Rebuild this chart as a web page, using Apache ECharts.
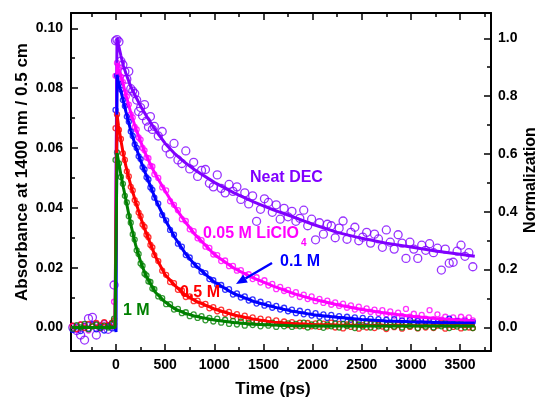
<!DOCTYPE html>
<html>
<head>
<meta charset="utf-8">
<title>Transient absorption decay at 1400 nm</title>
<script src="https://cdn.jsdelivr.net/npm/echarts@6/dist/echarts.min.js"></script>
<style>
  html, body { margin: 0; padding: 0; background: #fff; }
  #chart { width: 543px; height: 401px; }
</style>
</head>
<body>
<div id="chart"></div>
<script>
// Pump-probe delay times (ps) of the measured points
const delayTimes = [-440,-400,-360,-320,-280,-240,-200,-160,-120,-80,-40,-20,-5,
  10,30,50,70,90,110,130,150,170,190,210,230,250,270,290,310,330,350,370,390,
  430,470,510,550,590,630,670,710,750,790,830,870,910,950,990,
  1030,1070,1110,1150,1190,1230,1270,1310,1350,1390,1430,1470,1510,1550,1590,1630,1670,1710,1750,1790,1830,1870,1910,1950,1990,
  2030,2070,2110,2150,2190,2230,2270,2310,2350,2390,2430,2470,2510,2550,2590,2630,2670,2710,2750,2790,2830,2870,2910,2950,2990,
  3030,3070,3110,3150,3190,3230,3270,3310,3350,3390,3430,3470,3510,3550,3590,3630];

// Measured absorbance at 1400 nm (per 0.5 cm)
const neatDec = [0.0000,-0.0010,-0.0025,-0.0042,0.0030,0.0034,-0.0025,0.0002,0.0010,-0.0006,0.0008,0.0142,0.0958,
  0.0962,0.0955,0.0890,0.0878,0.0855,0.0830,0.0856,0.0798,0.0790,0.0782,0.0760,0.0722,0.0735,0.0708,0.0745,0.0690,0.0670,0.0705,0.0662,0.0672,
  0.0640,0.0655,0.0600,0.0580,0.0615,0.0560,0.0548,0.0590,0.0530,0.0552,0.0505,0.0525,0.0528,0.0482,0.0470,
  0.0510,0.0465,0.0450,0.0478,0.0455,0.0470,0.0428,0.0450,0.0413,0.0440,0.0355,0.0395,0.0430,0.0418,0.0385,0.0410,0.0362,0.0398,0.0370,0.0388,0.0355,0.0365,0.0392,0.0340,0.0362,
  0.0293,0.0350,0.0312,0.0345,0.0340,0.0300,0.0332,0.0356,0.0295,0.0318,0.0335,0.0290,0.0302,0.0318,0.0282,0.0312,0.0296,0.0268,0.0326,0.0285,0.0262,0.0310,0.0282,0.0231,0.0285,
  0.0262,0.0231,0.0275,0.0258,0.0280,0.0250,0.0265,0.0192,0.0262,0.0215,0.0218,0.0255,0.0275,0.0238,0.0250,0.0203];

const licl005 = [0.0005,-0.0008,0.0010,0.0002,-0.0010,0.0006,0.0012,-0.0004,0.0008,0.0003,0.0015,0.0086,0.0841,
  0.0884,0.0868,0.0838,0.0820,0.0785,0.0772,0.0745,0.0712,0.0702,0.0670,0.0662,0.0635,0.0628,0.0600,0.0592,0.0568,0.0566,0.0540,0.0538,0.0512,
  0.0500,0.0468,0.0458,0.0422,0.0410,0.0392,0.0362,0.0356,0.0328,0.0322,0.0298,0.0292,0.0270,0.0266,0.0244,
  0.0242,0.0222,0.0224,0.0205,0.0206,0.0190,0.0192,0.0175,0.0178,0.0162,0.0168,0.0150,0.0158,0.0140,0.0146,0.0128,0.0136,0.0122,0.0126,0.0110,0.0118,0.0102,0.0110,0.0095,0.0104,
  0.0088,0.0096,0.0082,0.0090,0.0076,0.0084,0.0072,0.0080,0.0066,0.0074,0.0060,0.0070,0.0056,0.0064,0.0052,0.0060,0.0048,0.0058,0.0044,0.0054,0.0040,0.0050,0.0038,0.0062,0.0036,
  0.0046,0.0032,0.0042,0.0030,0.0058,0.0028,0.0044,0.0026,0.0036,0.0024,0.0034,0.0022,0.0036,0.0026,0.0034,0.0024];

const licl01 = [-0.0008,0.0004,-0.0012,0.0006,-0.0004,0.0010,-0.0006,0.0002,-0.0010,0.0005,-0.0003,0.0012,0.0727,
  0.0842,0.0815,0.0795,0.0760,0.0740,0.0705,0.0688,0.0655,0.0640,0.0612,0.0600,0.0572,0.0563,0.0536,0.0528,0.0502,0.0495,0.0468,0.0460,0.0434,
  0.0414,0.0376,0.0358,0.0326,0.0310,0.0280,0.0270,0.0242,0.0234,0.0210,0.0206,0.0186,0.0182,0.0162,0.0158,
  0.0142,0.0142,0.0126,0.0128,0.0110,0.0114,0.0100,0.0104,0.0090,0.0094,0.0080,0.0086,0.0073,0.0078,0.0066,0.0072,0.0060,0.0066,0.0054,0.0060,0.0048,0.0056,0.0044,0.0052,0.0040,
  0.0048,0.0036,0.0044,0.0032,0.0042,0.0030,0.0038,0.0028,0.0036,0.0026,0.0034,0.0022,0.0032,0.0020,0.0030,0.0018,0.0028,0.0016,0.0026,0.0016,0.0028,0.0014,0.0024,0.0014,0.0026,
  0.0012,0.0022,0.0014,0.0024,0.0010,0.0022,0.0012,0.0020,0.0010,0.0030,0.0012,0.0022,0.0010,0.0020,0.0012,0.0018];

const licl05 = [0.0006,-0.0005,0.0010,-0.0002,0.0012,0.0004,0.0015,0.0006,0.0018,0.0008,0.0016,0.0024,0.0666,
  0.0712,0.0660,0.0630,0.0582,0.0560,0.0522,0.0505,0.0470,0.0458,0.0426,0.0414,0.0384,0.0372,0.0344,0.0336,0.0310,0.0302,0.0276,0.0268,0.0242,
  0.0222,0.0190,0.0176,0.0152,0.0148,0.0126,0.0124,0.0102,0.0104,0.0088,0.0090,0.0076,0.0079,0.0064,0.0068,
  0.0054,0.0060,0.0046,0.0052,0.0038,0.0045,0.0032,0.0040,0.0027,0.0034,0.0022,0.0030,0.0018,0.0027,0.0014,0.0024,0.0012,0.0020,0.0008,0.0018,0.0006,0.0016,0.0005,0.0015,0.0004,
  0.0014,0.0002,0.0013,0.0004,0.0016,0.0000,0.0012,-0.0003,0.0010,0.0002,0.0018,-0.0004,0.0008,0.0000,0.0014,-0.0002,0.0010,0.0003,-0.0005,0.0012,0.0001,0.0008,-0.0004,0.0010,0.0002,
  0.0014,-0.0003,0.0008,0.0000,0.0012,-0.0002,0.0006,0.0015,-0.0004,0.0010,0.0002,0.0012,-0.0003,0.0008,0.0000,-0.0002];

const licl1 = [-0.0004,0.0008,0.0000,0.0012,-0.0006,0.0004,0.0010,-0.0002,0.0006,0.0000,0.0012,0.0030,0.0560,
  0.0585,0.0548,0.0503,0.0480,0.0440,0.0418,0.0372,0.0350,0.0312,0.0294,0.0258,0.0246,0.0214,0.0206,0.0180,0.0174,0.0154,0.0152,0.0130,0.0128,
  0.0104,0.0098,0.0078,0.0078,0.0060,0.0062,0.0048,0.0051,0.0038,0.0044,0.0032,0.0038,0.0024,0.0032,0.0020,
  0.0030,0.0016,0.0026,0.0012,0.0022,0.0010,0.0020,0.0006,0.0016,0.0008,0.0018,0.0004,0.0014,0.0006,0.0016,0.0002,0.0012,0.0004,0.0014,0.0002,0.0012,0.0004,0.0016,0.0000,0.0010,
  0.0004,0.0016,-0.0001,0.0010,0.0004,0.0014,0.0000,0.0012,0.0005,0.0016,-0.0002,0.0010,0.0003,0.0015,0.0000,0.0011,0.0004,0.0014,-0.0001,0.0009,0.0003,0.0014,0.0000,0.0010,0.0005,
  0.0016,-0.0002,0.0010,0.0003,0.0013,0.0000,0.0011,0.0004,0.0015,-0.0002,0.0009,0.0003,0.0014,0.0000,0.0010,-0.0002];

// Fitted decay curves
const fitTimes = [-450,-10,0,10,25,50,75,100,150,200,250,300,400,500,600,700,800,1000,1200,1400,1600,1800,2000,2250,2500,2750,3000,3250,3500,3650];
const neatDecFit = [0,0,0,0.0967,0.0945,0.0908,0.0875,0.0850,0.0805,0.0772,0.0740,0.0712,0.0660,0.0615,0.0580,0.0552,0.0527,0.0485,0.0450,0.0420,0.0393,0.0370,0.0345,0.0318,0.0298,0.0282,0.0269,0.0256,0.0245,0.0238];
const licl005Fit = [0,0,0,0.0884,0.0866,0.0840,0.0810,0.0778,0.0718,0.0666,0.0622,0.0580,0.0512,0.0456,0.0402,0.0355,0.0312,0.0244,0.0198,0.0165,0.0138,0.0114,0.0095,0.0076,0.0060,0.0048,0.0038,0.0030,0.0025,0.0022];
const licl01Fit = [0,0,-0.0015,0.0845,0.0818,0.0790,0.0756,0.0722,0.0658,0.0605,0.0558,0.0515,0.0430,0.0360,0.0300,0.0250,0.0210,0.0152,0.0113,0.0087,0.0069,0.0054,0.0043,0.0034,0.0027,0.0022,0.0019,0.0017,0.0015,0.0015];
const licl05Fit = [0,0,0,0.0711,0.0675,0.0625,0.0578,0.0540,0.0475,0.0420,0.0368,0.0322,0.0238,0.0176,0.0140,0.0110,0.0090,0.0062,0.0042,0.0028,0.0018,0.0013,0.0010,0.0008,0.0007,0.0007,0.0006,0.0006,0.0006,0.0006];
const licl1Fit = [0,0,0,0.0583,0.0556,0.0510,0.0468,0.0428,0.0345,0.0275,0.0220,0.0176,0.0118,0.0085,0.0062,0.0048,0.0038,0.0025,0.0017,0.0011,0.0008,0.0006,0.0005,0.0005,0.0005,0.0005,0.0005,0.0005,0.0005,0.0005];

// Tick positions
const timeTicks = [0, 500, 1000, 1500, 2000, 2500, 3000, 3500];
const timeMinorTicks = [-250, 250, 750, 1250, 1750, 2250, 2750, 3250, 3750];
const absTicks = [0, 0.02, 0.04, 0.06, 0.08, 0.10];
const absMinorTicks = [0.01, 0.03, 0.05, 0.07, 0.09];
const normTicks = [0, 0.2, 0.4, 0.6, 0.8, 1.0];
const normMinorTicks = [0.1, 0.3, 0.5, 0.7, 0.9];

const FONT = '"Liberation Sans", Arial, sans-serif';
const BLACK = '#000';
const X_RANGE = { min: -458, max: 3815 };
const ABS_RANGE = { min: -0.00785, max: 0.1051 };
const NORM_RANGE = { min: -0.082, max: 1.0875 };

function axis(pos, range, major, minor, opts) {
  const o = opts || {};
  const base = Object.assign({ type: 'value', position: pos, splitLine: { show: false } }, range);
  const majorAxis = Object.assign({}, base, {
    axisLine: { show: true, onZero: false, lineStyle: { color: BLACK, width: 2 } },
    axisTick: { show: true, inside: true, length: 7, customValues: major, lineStyle: { color: BLACK, width: 1.5 } },
    axisLabel: o.labels ? {
      show: true, customValues: major, margin: o.margin, color: BLACK,
      fontFamily: FONT, fontWeight: 'bold', fontSize: 14, formatter: o.formatter
    } : { show: false }
  });
  const minorAxis = Object.assign({}, base, {
    axisLine: { show: false, onZero: false },
    axisTick: { show: true, inside: true, length: 4, customValues: minor, lineStyle: { color: BLACK, width: 1.5 } },
    axisLabel: { show: false }
  });
  return [majorAxis, minorAxis];
}

const xAxes = [
  ...axis('bottom', X_RANGE, timeTicks, timeMinorTicks, { labels: true, margin: 7, formatter: v => String(v) }),
  ...axis('top', X_RANGE, timeTicks, timeMinorTicks, { labels: false })
];
const yAxes = [
  ...axis('left', ABS_RANGE, absTicks, absMinorTicks, { labels: true, margin: 8, formatter: v => v.toFixed(2) }),
  ...axis('right', NORM_RANGE, normTicks, normMinorTicks, { labels: true, margin: 7, formatter: v => v.toFixed(1) })
];

function points(times, values) {
  return times.map((t, i) => [t, values[i]]);
}
function measured(name, values, color, size) {
  return {
    name: name, type: 'scatter', xAxisIndex: 0, yAxisIndex: 0,
    data: points(delayTimes, values),
    symbol: 'circle', symbolSize: size, silent: true,
    itemStyle: { color: 'rgba(0,0,0,0)', borderColor: color, borderWidth: 1.3 }
  };
}
function fitted(name, values, color) {
  return {
    name: name + ' fit', type: 'line', xAxisIndex: 0, yAxisIndex: 0,
    data: points(fitTimes, values),
    symbol: 'none', showSymbol: false, smooth: false, silent: true,
    lineStyle: { color: color, width: 3 }
  };
}

const PURPLE = '#8000FF', MAGENTA = '#FF00FF', BLUE = '#0000FF', RED = '#FF0000', GREEN = '#008000';

const series = [
  measured('Neat DEC', neatDec, PURPLE, 8), fitted('Neat DEC', neatDecFit, PURPLE),
  measured('0.05 M LiClO4', licl005, MAGENTA, 5), fitted('0.05 M LiClO4', licl005Fit, MAGENTA),
  measured('0.1 M', licl01, BLUE, 5), fitted('0.1 M', licl01Fit, BLUE),
  measured('0.5 M', licl05, RED, 5), fitted('0.5 M', licl05Fit, RED),
  measured('1 M', licl1, GREEN, 5), fitted('1 M', licl1Fit, GREEN)
];

function label(text, x, y, color, size, extra) {
  return Object.assign({
    type: 'text', x: x, y: y, z: 100,
    style: {
      text: text, fill: color, fontFamily: FONT, fontWeight: 'bold', fontSize: size,
      textAlign: 'left', textVerticalAlign: 'middle', align: 'left', verticalAlign: 'middle'
    }
  }, extra || {});
}
function centred(el) {
  el.style.textAlign = 'center'; el.style.align = 'center';
  return el;
}

const graphics = [
  centred(label('Absorbance at 1400 nm / 0.5 cm', 22, 172, BLACK, 17, { rotation: Math.PI / 2 })),
  centred(label('Time (ps)', 273, 389, BLACK, 17)),
  centred(label('Normalization', 531, 180, BLACK, 16, { rotation: Math.PI / 2 })),
  label('Neat DEC', 250, 178, PURPLE, 16),
  label('0.05 M LiClO', 203, 234, MAGENTA, 16),
  label('4', 301, 243, MAGENTA, 10),
  label('0.1 M', 280, 262, BLUE, 16),
  label('0.5 M', 180, 293, RED, 16),
  label('1 M', 123, 311, GREEN, 16),
  { type: 'line', z: 100, shape: { x1: 272, y1: 263, x2: 245.5, y2: 278.5 }, style: { stroke: BLUE, lineWidth: 2.5 } },
  { type: 'polygon', z: 100, shape: { points: [[236, 284], [247.8, 282.4], [243.2, 274.6]] }, style: { fill: BLUE } }
];

const chart = echarts.init(document.getElementById('chart'), null, { renderer: 'canvas' });
chart.setOption({
  animation: false,
  backgroundColor: '#fff',
  grid: { left: 71, right: 52, top: 13, bottom: 50, containLabel: false },
  xAxis: xAxes,
  yAxis: yAxes,
  series: series,
  graphic: graphics
});
</script>
</body>
</html>
